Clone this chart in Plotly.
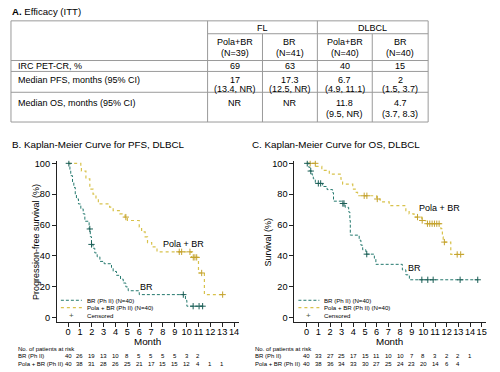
import plotly.graph_objects as go

# ---------------- DATA ----------------
# Table (A. Efficacy)
group_labels = ["FL", "DLBCL"]
arm_labels = ["Pola+BR", "BR", "Pola+BR", "BR"]
arm_ns = ["(N=39)", "(N=41)", "(N=40)", "(N=40)"]
row_labels = ["IRC PET-CR, %", "Median PFS, months (95% CI)", "Median OS, months (95% CI)"]
pet_cr = ["69", "63", "40", "15"]
pfs_median = ["17", "17.3", "6.7", "2"]
pfs_ci = ["(13.4, NR)", "(12.5, NR)", "(4.9, 11.1)", "(1.5, 3.7)"]
os_median = ["NR", "NR", "11.8", "4.7"]
os_ci = ["", "", "(9.5, NR)", "(3.7, 8.3)"]

# PFS, DLBCL - BR
pfs_br_t = [0, 0.15, 0.22, 0.37, 0.48, 0.6, 0.7, 0.87, 1.07, 1.27, 1.41, 1.77, 1.87, 1.97, 2.1, 2.25,
            2.45, 2.68, 3.04, 3.66, 3.8, 4.08, 4.42, 4.65, 4.87, 5.07, 6.0, 9.9, 10.02, 11.55]
pfs_br_s = [100, 96, 92, 87.5, 84.4, 80, 77, 73.7, 70.5, 67.3, 62.5, 57.5, 52.5, 47.5, 45, 42,
            39.5, 36.5, 35, 32.5, 30, 27.5, 25, 22.5, 20, 17.5, 15, 11.3, 7.5, 7.5]
pfs_br_cens = [0.06, 1.83, 1.97, 9.72, 10.55, 11.05, 11.35]

# PFS, DLBCL - Pola + BR
pfs_pola_t = [0, 1.07, 1.12, 1.5, 1.83, 2.1, 2.35, 2.55, 3.5, 3.8, 4.37, 4.8, 5.0, 6.0, 6.2, 6.5,
              6.7, 7.05, 7.5, 10.4, 11.0, 11.5, 13.1]
pfs_pola_s = [100, 97.5, 95, 90, 83.3, 80, 77, 73.7, 71.6, 69.4, 67.3, 65.2, 63, 58.8, 55.6, 52.4,
              48.7, 45.9, 42.7, 39.1, 29, 15, 15]
pfs_pola_cens = [4.87, 9.38, 9.58, 10.28, 10.56, 10.7, 10.85, 11.27, 13.04]

# OS, DLBCL - BR
os_br_t = [0, 0.17, 0.29, 0.46, 0.57, 0.74, 1.37, 1.75, 2.22, 2.3, 3.02, 3.3, 3.6, 3.7, 3.74, 4.5,
           4.65, 4.8, 5.08, 5.8, 5.93, 8.2, 8.5, 8.8, 14.7]
os_br_s = [100, 97.5, 95, 92.5, 90, 87, 85, 83, 81, 75.5, 74, 71.5, 68.5, 63, 53.5, 50.2,
           47, 44, 41.2, 38.5, 34.6, 31, 27.8, 24.6, 24.6]
os_br_cens = [0.05, 0.35, 1.0, 1.2, 3.1, 3.2, 5.15, 9.87, 10.38, 10.84, 13.15, 14.66]

# OS, DLBCL - Pola + BR
os_pola_t = [0, 0.8, 1.3, 1.94, 2.94, 3.08, 3.95, 4.16, 4.36, 6.0, 6.3, 7.07, 8.5, 8.78, 9.2, 9.87,
             10.2, 11.5, 11.63, 11.7, 12.35, 13.5]
os_pola_s = [100, 98, 95.5, 93, 89.7, 86.5, 83.3, 81.2, 79, 76.9, 75, 72.6, 69.4, 67.3, 65.2, 63,
             60.9, 57.7, 52.4, 49, 41, 41]
os_pola_cens = [0.3, 0.74, 4.93, 5.16, 6.05, 9.5, 9.9, 10.35, 10.55, 10.75, 10.95, 11.15, 11.35,
                11.8, 12.9, 13.2]

# Patients at risk / month ticks
pfs_months = list(range(0, 15))
pfs_risk_br = [40, 26, 19, 13, 10, 8, 5, 5, 5, 5, 3, 2]
pfs_risk_pola = [40, 38, 31, 28, 26, 25, 21, 17, 15, 15, 12, 4, 1, 1]
os_months = list(range(0, 16))
os_risk_br = [40, 33, 27, 25, 17, 15, 11, 10, 10, 7, 8, 3, 2, 2, 1]
os_risk_pola = [40, 38, 36, 34, 33, 30, 27, 25, 24, 23, 20, 14, 6, 4]
survival_ticks = [0, 20, 40, 60, 80, 100]

# ---------------- STYLE ----------------
W, H = 500, 372
FONT = "Arial, Liberation Sans, sans-serif"
TEAL = "#24796e"
TEAL_DARK = "#1d5f57"
GOLD = "#d8c24c"
GOLD_DARK = "#c4a22e"
GRID = "#9a9a9a"


def px(x):
    return x / W


def py(y):
    return 1 - y / H


def step_value(ts, ss, t):
    v = ss[0]
    for ti, si in zip(ts, ss):
        if ti <= t:
            v = si
    return v


fig = go.Figure()
shapes = []
ann = []


def text(x, y, s, size=9, anchor="center", color="black", **kw):
    ann.append(dict(x=px(x), y=py(y), xref="paper", yref="paper", text=s, showarrow=False,
                    xanchor=anchor, yanchor="middle", font=dict(family=FONT, size=size, color=color), **kw))


def hline(x0, x1, y, color=GRID, width=1):
    shapes.append(dict(type="line", xref="paper", yref="paper", x0=px(x0), x1=px(x1), y0=py(y), y1=py(y),
                       line=dict(color=color, width=width)))


def vline(x, y0, y1, color=GRID, width=1):
    shapes.append(dict(type="line", xref="paper", yref="paper", x0=px(x), x1=px(x), y0=py(y0), y1=py(y1),
                       line=dict(color=color, width=width)))


# ---------------- TABLE ----------------
text(10, 9.5, "<b>A.</b> Efficacy (ITT)", size=9.6, anchor="left")
tl, tr = 11, 429
col_edges = [208, 263, 318, 373, 429]
row_y = [19, 32, 59, 70, 91, 121]
hline(tl, tr, row_y[0])
hline(col_edges[0], tr, row_y[1])
for yy in row_y[2:]:
    hline(tl, tr, yy)
vline(tl, row_y[0], row_y[-1])
vline(col_edges[0], row_y[0], row_y[-1])
vline(col_edges[2], row_y[0], row_y[-1])
vline(col_edges[4], row_y[0], row_y[-1])
vline(col_edges[1], row_y[1], row_y[-1])
vline(col_edges[3], row_y[1], row_y[-1])

centers = [(col_edges[i] + col_edges[i + 1]) / 2 for i in range(4)]
text((col_edges[0] + col_edges[2]) / 2, 26, group_labels[0])
text((col_edges[2] + col_edges[4]) / 2, 26, group_labels[1])
for i, c in enumerate(centers):
    text(c, 40.5, arm_labels[i])
    text(c, 51, arm_ns[i])
    text(c, 64.5, pet_cr[i])
    text(c, 78.5, pfs_median[i])
    text(c, 87.8, pfs_ci[i])
    text(c, 102.3, os_median[i])
    if os_ci[i]:
        text(c, 113.3, os_ci[i])
text(16, 64.5, row_labels[0], anchor="left")
text(16, 78.5, row_labels[1], anchor="left")
text(16, 102.3, row_labels[2], anchor="left")

# ---------------- KM PLOTS ----------------
text(10, 143.5, "B. Kaplan-Meier Curve for PFS, DLBCL", size=9.8, anchor="left")
text(250, 143.5, "C. Kaplan-Meier Curve for OS, DLBCL", size=9.8, anchor="left")


def km(ts, ss, cens, color, mcolor, dash, width, xa, ya):
    fig.add_trace(go.Scatter(x=ts, y=ss, mode="lines", line=dict(color=color, width=width, dash=dash, shape="hv"),
                             xaxis=xa, yaxis=ya, showlegend=False, hoverinfo="skip"))
    cy = [step_value(ts, ss, c) for c in cens]
    fig.add_trace(go.Scatter(x=cens, y=cy, mode="markers",
                             marker=dict(symbol="cross-thin", size=4.5, line=dict(color=mcolor, width=1)),
                             xaxis=xa, yaxis=ya, showlegend=False, hoverinfo="skip"))


km(pfs_pola_t, pfs_pola_s, pfs_pola_cens, GOLD, GOLD_DARK, "dot", 1.2, "x", "y")
km(pfs_br_t, pfs_br_s, pfs_br_cens, TEAL, TEAL_DARK, "3px,2px", 1, "x", "y")
km(os_pola_t, os_pola_s, os_pola_cens, GOLD, GOLD_DARK, "dot", 1.2, "x2", "y2")
km(os_br_t, os_br_s, os_br_cens, TEAL, TEAL_DARK, "3px,2px", 1, "x2", "y2")

ydom = [py(322.7), py(160)]
axis_common = dict(showline=True, linecolor="#222", linewidth=1, ticks="outside", ticklen=4, tickwidth=1,
                   tickcolor="#222", showgrid=False, zeroline=False, tickangle=0,
                   tickfont=dict(family=FONT, size=9.2, color="black"))
xaxis_extra = dict(ticklabelstandoff=-3)
fig.update_layout(
    xaxis=dict(domain=[px(57), px(239)], range=[-0.95, 14.38], tickmode="array", tickvals=pfs_months,
               anchor="y", **axis_common, **xaxis_extra),
    yaxis=dict(domain=ydom, range=[-2.8, 101.7], tickmode="array", tickvals=survival_ticks, anchor="x",
               **axis_common),
    xaxis2=dict(domain=[px(295), px(487)], range=[-1.05, 15.37], tickmode="array", tickvals=os_months,
                anchor="y2", **axis_common, **xaxis_extra),
    yaxis2=dict(domain=ydom, range=[-2.8, 101.7], tickmode="array", tickvals=survival_ticks, anchor="x2",
                **axis_common),
)

# axis titles
text(148, 342.5, "Month", size=9.8)
text(390, 342.5, "Month", size=9.8)
ann.append(dict(x=px(28.5), y=py(241.5), xref="paper", yref="paper", text="Progression-free survival (%)",
                showarrow=False, textangle=-90, font=dict(family=FONT, size=9, color="black")))
ann.append(dict(x=px(268.5), y=py(241.5), xref="paper", yref="paper", text="Survival (%)",
                showarrow=False, textangle=-90, font=dict(family=FONT, size=9, color="black")))

# curve labels (data coordinates)
ann.append(dict(x=9.7, y=48, xref="x", yref="y", text="Pola + BR", showarrow=False,
                font=dict(family=FONT, size=9, color="black")))
ann.append(dict(x=6.6, y=20, xref="x", yref="y", text="BR", showarrow=False,
                font=dict(family=FONT, size=9, color="black")))
ann.append(dict(x=11.35, y=71.2, xref="x2", yref="y2", text="Pola + BR", showarrow=False,
                font=dict(family=FONT, size=9, color="black")))
ann.append(dict(x=9.21, y=32.1, xref="x2", yref="y2", text="BR", showarrow=False,
                font=dict(family=FONT, size=9, color="black")))

# legends
legend_names = ["BR (Ph II) (N=40)", "Pola + BR (Ph II) (N=40)", "Censored"]
for x0 in (61, 299):
    shapes.append(dict(type="line", xref="paper", yref="paper", x0=px(x0), x1=px(x0 + 21), y0=py(300.7),
                       y1=py(300.7), line=dict(color=TEAL, width=1, dash="3px,2px")))
    shapes.append(dict(type="line", xref="paper", yref="paper", x0=px(x0), x1=px(x0 + 21), y0=py(308.2),
                       y1=py(308.2), line=dict(color=GOLD, width=1.2, dash="dot")))
    text(x0 + 10.5, 315.6, "+", size=8, color="#4f5a3a")
    for k, name in enumerate(legend_names):
        text(x0 + 24, [300.7, 308.2, 315.6][k], name, size=6.1, anchor="left")

# patients at risk
RISK_SIZE = 6
for lx, xa, months, br_vals, pola_vals in ((16.5, "x", pfs_months, pfs_risk_br, pfs_risk_pola),
                                           (253.5, "x2", os_months, os_risk_br, os_risk_pola)):
    text(lx, 349.5, "No. of patients at risk", size=RISK_SIZE, anchor="left")
    text(lx, 357.3, "BR (Ph II)", size=RISK_SIZE, anchor="left")
    text(lx, 365, "Pola + BR (Ph II)", size=RISK_SIZE, anchor="left")
    for m, v in zip(months, br_vals):
        ann.append(dict(x=m, y=py(357.3), xref=xa, yref="paper", text=str(v), showarrow=False,
                        yanchor="middle", font=dict(family=FONT, size=RISK_SIZE, color="black")))
    for m, v in zip(months, pola_vals):
        ann.append(dict(x=m, y=py(365), xref=xa, yref="paper", text=str(v), showarrow=False,
                        yanchor="middle", font=dict(family=FONT, size=RISK_SIZE, color="black")))

fig.update_layout(width=W, height=H, margin=dict(l=0, r=0, t=0, b=0), paper_bgcolor="white",
                  plot_bgcolor="white", shapes=shapes, annotations=ann, showlegend=False,
                  font=dict(family=FONT, size=9, color="black"))

# remove the default page margin so the 500x372 figure fills the window exactly
fig.write_html("out.html", config={"displayModeBar": False},
               post_script="document.body.style.margin='0';document.body.style.overflow='hidden';")
